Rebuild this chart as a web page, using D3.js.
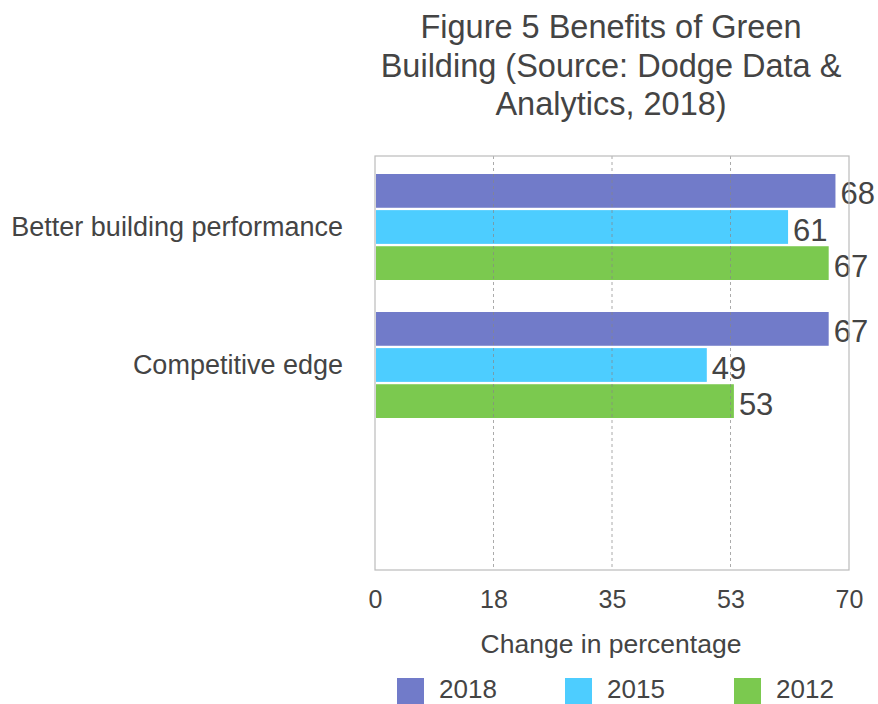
<!DOCTYPE html>
<html><head><meta charset="utf-8">
<script src="https://cdn.jsdelivr.net/npm/d3@7"></script>
<style>body{margin:0;background:#fff}svg{display:block}text{font-family:"Liberation Sans",Arial,Helvetica,sans-serif;fill:#444}</style>
</head><body><svg id="c" width="878" height="704"></svg>
<script>
const categories = ["Better building performance", "Competitive edge", ""];
const series = ["2018", "2015", "2012"];
const values2018 = [68, 67];
const values2015 = [61, 49];
const values2012 = [67, 53];
const tickValues = [0, 17.5, 35, 52.5, 70];
const tickLabels = ["0", "18", "35", "53", "70"];
const colors = ["#717bc9", "#4dcdff", "#7bc94f"];
const titleLines = ["Figure 5 Benefits of Green", "Building (Source: Dodge Data &", "Analytics, 2018)"];

const svg = d3.select("#c");
const m = {l:375, r:849, t:156, b:570};
const x = d3.scaleLinear().domain([0,70]).range([m.l, m.r]);
const y = d3.scaleBand().domain(categories).range([m.t, m.b]);
const inner = d3.scaleBand().domain(series).range([18, 124]).paddingInner(0.065);
const seriesVals = [values2018, values2015, values2012];

// title
svg.append("text").attr("x", 611).attr("text-anchor","middle")
  .style("font-size","32.5px")
  .selectAll("tspan").data(titleLines).join("tspan")
  .attr("x",611).attr("y",(d,i)=>38+i*38.5).text(d=>d);

// bars
series.forEach((s,si)=>{
  const vals = seriesVals[si];
  const data = categories.slice(0, vals.length).map((c,i)=>({c, v:vals[i]}));
  svg.append("g").selectAll("rect").data(data).join("rect")
    .attr("x", x(0)+1).attr("y", d=>y(d.c)+inner(s))
    .attr("width", d=>x(d.v)-x(0)-1).attr("height", inner.bandwidth())
    .attr("fill", colors[si]);
  svg.append("g").selectAll("text").data(data).join("text")
    .attr("x", d=>x(d.v)+5).attr("y", d=>y(d.c)+inner(s)+inner.bandwidth()/2+13.5)
    .style("font-size","31px").text(d=>d.v);
});

// grid
svg.append("g").selectAll("line").data(tickValues.slice(1,-1)).join("line")
  .attr("x1",d=>x(d)).attr("x2",d=>x(d)).attr("y1",m.t).attr("y2",m.b)
  .attr("stroke","#888").attr("stroke-opacity",0.7).attr("stroke-dasharray","3,3");

// frame
svg.append("rect").attr("x",m.l).attr("y",m.t).attr("width",m.r-m.l).attr("height",m.b-m.t)
  .attr("fill","none").attr("stroke","#bbb").attr("stroke-width",1.2);

// x axis
const xa = svg.append("g").attr("transform",`translate(0,${m.b})`)
  .call(d3.axisBottom(x).tickValues(tickValues).tickFormat((d,i)=>tickLabels[i]).tickSize(0).tickPadding(0));
xa.select(".domain").remove();
xa.selectAll("text").attr("dy",null).attr("y",38).style("font-size","25px").attr("fill","#444").attr("font-family",null);

// y labels
svg.append("g").selectAll("text").data(categories).join("text")
  .attr("x", 343).attr("y", d=>y(d)+y.bandwidth()/2+10.5).attr("text-anchor","end")
  .style("font-size","27px").text(d=>d);

// axis title
svg.append("text").attr("x",611).attr("y",653).attr("text-anchor","middle")
  .style("font-size","26.5px").text("Change in percentage");

// legend
const lx = [397, 565, 734];
series.forEach((s,i)=>{
  svg.append("rect").attr("x",lx[i]).attr("y",678).attr("width",27).attr("height",27).attr("fill",colors[i]);
  svg.append("text").attr("x",lx[i]+42).attr("y",698).style("font-size","26px").text(s);
});
</script></body></html>
